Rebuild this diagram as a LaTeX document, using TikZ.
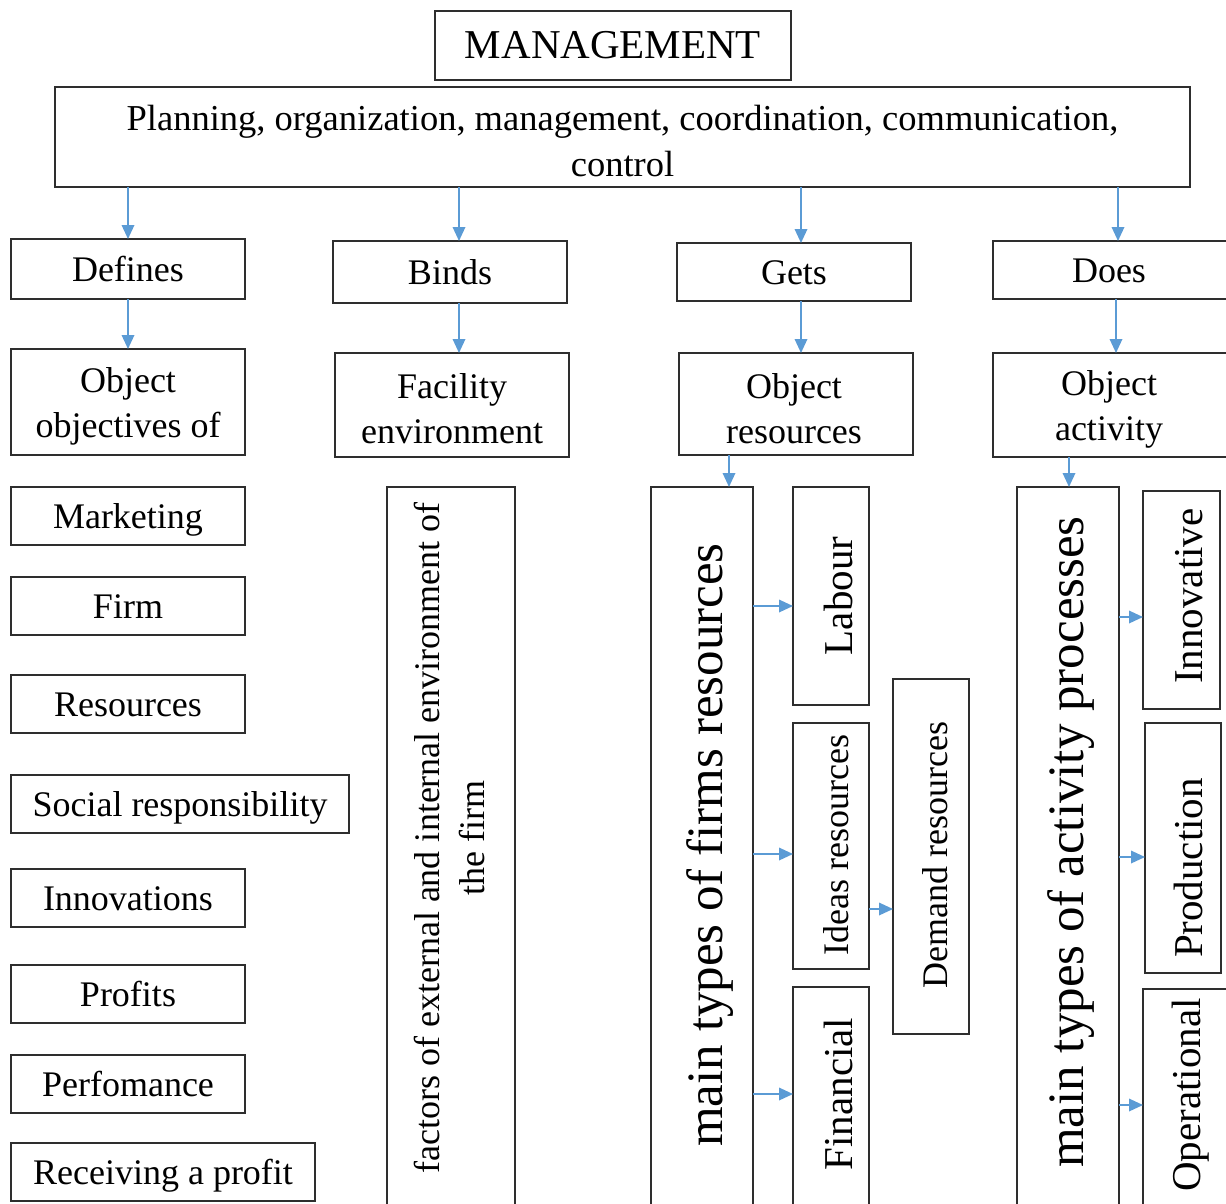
\documentclass[tikz,border=0pt]{standalone}
\usepackage{fontspec}
\setmainfont{Liberation Serif}
\usetikzlibrary{arrows.meta}
\definecolor{arrblue}{RGB}{91,155,213}
\begin{document}
\begin{tikzpicture}[x=1pt,y=-1pt,
  box/.style={draw=black!82, line width=2pt, inner sep=0pt, outer sep=0pt,
    font=\fontsize{36}{45}\selectfont, align=center},
  one/.style={text height=25pt, text depth=0pt},
  mtext/.style={inner sep=0pt, align=center, font=\fontsize{36}{45}\selectfont},
  wh/.style 2 args={minimum width=#1, minimum height=#2},
  vt/.style={rotate=90, inner sep=0pt, align=center, font=\fontsize{36}{45}\selectfont},
  vbig/.style={rotate=90, inner sep=0pt, font=\fontsize{51}{60}\selectfont},
  vmid/.style={rotate=90, inner sep=0pt, font=\fontsize{41}{50}\selectfont},
  arr/.style={draw=arrblue, line width=1.8pt, -{Triangle[length=14pt,width=12.5pt]}}
]
\useasboundingbox (0,0) rectangle (1226,1203);
\clip (0,0) rectangle (1226,1203);
\fill[white] (0,0) rectangle (1226,1203);

% top
\node[box, wh={356}{69}, font=\fontsize{41}{48}\selectfont] (mgmt) at (613,45.5) {MANAGEMENT};
\node[box, wh={1135}{100}] (plan) at (622.5,137) {};
\node[mtext, font=\fontsize{36.5}{46}\selectfont] (plantext) at (622.5,141)
  {Planning, organization, management, coordination, communication,\\control};

% second row
\node[box, one, wh={234}{60}] (defines) at (128,269) {Defines};
\node[box, one, wh={234}{62}] (binds) at (450,272) {Binds};
\node[box, one, wh={234}{58}] (gets) at (794,272) {Gets};
\node[box, wh={236}{58}] (does) at (1111,270) {};
\node[one, inner sep=0pt, font=\fontsize{36}{45}\selectfont] (doestext) at (1109,270) {Does};

% third row
\node[box, wh={234}{106}] (objectives) at (128,402) {};
\node[mtext] (objectivestext) at (128,406) {Object\\objectives of};
\node[box, wh={234}{104}] (facility) at (452,405) {};
\node[mtext] (facilitytext) at (452,409) {Facility\\environment};
\node[box, wh={234}{102}] (objres) at (796,404) {};
\node[mtext] (objrestext) at (794,409) {Object\\resources};
\node[box, wh={236}{104}] (objact) at (1111,405) {};
\node[mtext] (objacttext) at (1109,409) {Object\\activity};

% left column
\node[box, one, wh={234}{58}] (marketing) at (128,516) {Marketing};
\node[box, one, wh={234}{58}] (firm) at (128,606) {Firm};
\node[box, one, wh={234}{58}] (resources) at (128,704) {Resources};
\node[box, one, wh={338}{58}] (social) at (180,804) {Social responsibility};
\node[box, one, wh={234}{58}] (innovations) at (128,898) {Innovations};
\node[box, one, wh={234}{58}] (profits) at (128,994) {Profits};
\node[box, one, wh={234}{58}] (perfomance) at (128,1084) {Perfomance};
\node[box, one, wh={304}{58}] (receiving) at (163,1172) {Receiving a profit};

% factors
\node[box, wh={128}{730}] (factors) at (451,852) {};
\node[vt] (factorstext) at (449,838) {factors of external and internal environment of\\the firm};

% resources column
\node[box, wh={102}{730}] (mainres) at (702,852) {};
\node[vbig] (mainrestext) at (710,845) {main types of firms resources};
\node[box, wh={76}{218}] (labour) at (831,596) {};
\node[vmid] (labourtext) at (838,596) {Labour};
\node[box, wh={76}{246}] (ideas) at (831,846) {};
\node[vt] (ideastext) at (836,845) {Ideas resources};
\node[box, wh={76}{230}] (financial) at (831,1102) {};
\node[vmid] (financialtext) at (838,1094) {Financial};
\node[box, wh={76}{355}] (demand) at (931,856.5) {};
\node[vt] (demandtext) at (935,855) {Demand resources};

% activity column
\node[box, wh={102}{730}] (mainact) at (1068,852) {};
\node[vbig] (mainacttext) at (1071,842) {main types of activity processes};
\node[box, wh={77}{218}] (innovative) at (1181.5,600) {};
\node[vmid] (innovativetext) at (1189,596) {Innovative};
\node[box, wh={76}{250}] (production) at (1183,848) {};
\node[vmid] (productiontext) at (1188,868) {Production};
\node[box, wh={92}{230}] (operational) at (1189,1104) {};
\node[vmid] (operationaltext) at (1191,1095) {Operational};

% arrows from planning
\draw[arr] (plan.south -| 128,0) -- (defines.north -| 128,0);
\draw[arr] (plan.south -| 459,0) -- (binds.north -| 459,0);
\draw[arr] (plan.south -| 801,0) -- (gets.north -| 801,0);
\draw[arr] (plan.south -| 1118,0) -- (does.north -| 1118,0);

% second to third
\draw[arr] (defines.south -| 128,0) -- (objectives.north -| 128,0);
\draw[arr] (binds.south -| 459,0) -- (facility.north -| 459,0);
\draw[arr] (gets.south -| 801,0) -- (objres.north -| 801,0);
\draw[arr] (does.south -| 1116,0) -- (objact.north -| 1116,0);

% to main boxes
\draw[arr] (objres.south -| 729,0) -- (mainres.north -| 729,0);
\draw[arr] (objact.south -| 1069,0) -- (mainact.north -| 1069,0);

% resources branches
\draw[arr] (mainres.east |- 0,606) -- (labour.west |- 0,606);
\draw[arr] (mainres.east |- 0,854) -- (ideas.west |- 0,854);
\draw[arr] (mainres.east |- 0,1094) -- (financial.west |- 0,1094);
\draw[arr] (ideas.east |- 0,909) -- (demand.west |- 0,909);

% activity branches
\draw[arr] (mainact.east |- 0,617) -- (innovative.west |- 0,617);
\draw[arr] (mainact.east |- 0,857) -- (production.west |- 0,857);
\draw[arr] (mainact.east |- 0,1105) -- (operational.west |- 0,1105);
\end{tikzpicture}
\end{document}
